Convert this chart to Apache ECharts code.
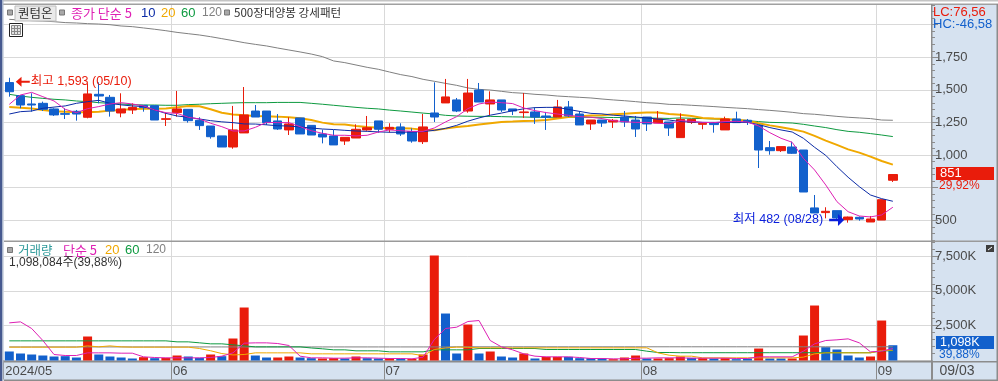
<!DOCTYPE html>
<html><head><meta charset="utf-8">
<style>html,body{margin:0;padding:0;background:#fff}#c{width:998px;height:381px}</style>
<script src="https://cdn.jsdelivr.net/npm/echarts@6/dist/echarts.min.js"></script>
</head><body><div id="c"></div>
<script>
const dates = ['05/10','05/13','05/14','05/16','05/17','05/20','05/21','05/22','05/23','05/24','05/27','05/28','05/29','05/30','05/31',
'06/03','06/04','06/05','06/07','06/10','06/11','06/12','06/13','06/14','06/17','06/18','06/19','06/20','06/21','06/24','06/25','06/26','06/27','06/28',
'07/01','07/02','07/03','07/04','07/05','07/08','07/09','07/10','07/11','07/12','07/15','07/16','07/17','07/18','07/19','07/22','07/23','07/24','07/25','07/26','07/29','07/30','07/31',
'08/01','08/02','08/05','08/06','08/07','08/08','08/09','08/12','08/13','08/14','08/16','08/19','08/20','08/21','08/22','08/23','08/26','08/27','08/28','08/29','08/30',
'09/02','09/03'];
const blankSlots = ['', ' ', '  '];
const monthLabels = {'05/10':'2024/05','06/03':'06','07/01':'07','08/01':'08','09/02':'09'};
const openP = [1556,1456,1392,1397,1354,1318,1336,1290,1466,1443,1323,1346,1382,1379,1274,1326,1351,1267,1223,1147,1062,1170,1338,1338,1262,1193,1285,1228,1162,1147,
1108,1131,1193,1262,1198,1216,1180,1103,1323,1400,1423,1338,1499,1392,1423,1354,1326,1331,1300,1292,1369,1315,1239,1269,1254,1292,1269,1292,1246,1254,
1134,1251,1236,1249,1193,1277,1267,1228,1057,1034,1062,1039,595,559,574,505,523,487,502,807];
const closeP = [1486,1384,1384,1351,1308,1313,1315,1469,1453,1338,1354,1366,1364,1269,1279,1354,1264,1226,1141,1062,1193,1308,1292,1249,1200,1239,1162,1154,1139,1078,
1136,1198,1210,1198,1213,1162,1108,1216,1292,1446,1338,1476,1407,1423,1346,1338,1331,1292,1290,1369,1300,1231,1269,1246,1267,1254,1200,1239,1277,1208,
1274,1274,1244,1234,1277,1249,1254,1039,1034,1065,1014,717,556,569,518,525,510,510,658,851];
const lowP = [1448,1359,1333,1338,1300,1277,1264,1282,1397,1295,1290,1315,1333,1269,1223,1295,1249,1193,1126,1062,1049,1170,1292,1231,1193,1154,1162,1154,1090,1078,
1078,1131,1187,1172,1172,1147,1095,1085,1254,1400,1330,1325,1407,1307,1331,1307,1285,1239,1193,1292,1292,1231,1193,1216,1208,1216,1139,1185,1246,1147,
1134,1239,1198,1172,1193,1249,1231,901,1003,1024,1009,717,556,515,500,482,497,487,502,794];
const highP = [1593,1456,1474,1410,1359,1359,1346,1550,1558,1461,1474,1397,1382,1379,1325,1492,1351,1290,1223,1147,1377,1522,1384,1338,1315,1290,1285,1228,1195,1193,
1136,1236,1300,1262,1244,1244,1205,1315,1558,1584,1438,1584,1553,1489,1423,1354,1476,1364,1331,1423,1415,1338,1269,1269,1277,1338,1300,1292,1338,1254,
1320,1274,1244,1249,1295,1333,1277,1228,1108,1065,1103,1039,694,600,574,528,530,533,660,855];
const ma5 = [1389,1461,1481,1448,1415,1351,1325,1356,1372,1392,1402,1392,1377,1346,1325,1320,1290,1277,1244,1218,1185,1185,1213,1251,1249,1249,1218,1187,1167,1152,
1152,1147,1152,1177,1193,1187,1182,1182,1208,1254,1295,1356,1392,1407,1402,1395,1361,1341,1326,1315,1305,1295,1290,1280,1264,1256,1251,1251,1244,1239,
1264,1259,1251,1249,1257,1259,1254,1223,1172,1129,1098,975,886,771,643,566,533,526,541,600];
const ma10 = [1315,1333,1338,1359,1368,1377,1397,1410,1420,1397,1385,1377,1372,1346,1320,1300,1290,1277,1264,1255,1249,1239,1238,1232,1225,1223,1215,1208,1200,1196,
1190,1185,1182,1178,1175,1175,1177,1180,1190,1205,1228,1260,1285,1306,1322,1340,1355,1364,1366,1366,1350,1335,1320,1316,1306,1300,1292,1285,1276,1269,
1257,1254,1251,1251,1251,1251,1251,1234,1211,1193,1177,1129,1060,998,911,830,758,694,666,646];
const ma20 = [1369,1364,1358,1346,1336,1333,1328,1328,1333,1341,1346,1354,1356,1356,1358,1366,1377,1374,1351,1325,1312,1305,1300,1297,1295,1290,1282,1269,1249,1236,
1234,1223,1216,1210,1207,1205,1203,1195,1190,1203,1216,1223,1234,1244,1254,1257,1262,1264,1269,1280,1293,1298,1303,1305,1313,1318,1323,1326,1326,1315,
1310,1300,1285,1280,1277,1272,1264,1244,1228,1213,1198,1180,1147,1111,1078,1044,1019,988,955,927];
const ma60 = [1466,1453,1443,1435,1428,1423,1415,1410,1402,1397,1392,1387,1384,1384,1382,1382,1387,1390,1394,1397,1400,1402,1402,1402,1404,1404,1404,1397,1390,1382,
1374,1366,1359,1354,1345,1338,1330,1322,1315,1305,1300,1298,1297,1297,1295,1293,1292,1290,1290,1290,1290,1290,1290,1290,1288,1288,1286,1285,1283,1281,
1285,1282,1280,1277,1274,1269,1264,1257,1251,1249,1246,1236,1223,1211,1195,1182,1175,1165,1154,1142];
const ma120 = [2041,2036,2031,2028,2023,2016,2013,2008,2005,2000,1990,1985,1975,1965,1954,1941,1931,1921,1908,1893,1878,1862,1849,1837,1821,1806,1791,1775,1755,1722,
1709,1691,1673,1658,1637,1617,1602,1581,1566,1550,1535,1515,1504,1499,1489,1479,1474,1466,1461,1453,1448,1443,1438,1430,1423,1417,1410,1402,1397,1389,
1387,1382,1377,1372,1366,1361,1356,1349,1343,1336,1328,1318,1313,1305,1297,1290,1285,1280,1269,1267];
const volume = [647,503,431,359,287,311,215,1724,431,287,215,144,240,167,190,359,287,190,431,311,1580,3807,359,215,215,287,215,167,144,168,
144,287,168,144,168,144,120,431,7540,3375,503,2585,503,646,287,215,503,144,263,263,263,168,168,168,96,215,359,144,144,168,
287,190,168,144,168,96,144,861,144,144,144,1795,3950,957,790,359,215,287,2872,1098];
const volDir = [-1,-1,-1,-1,-1,-1,-1,1,-1,-1,-1,-1,1,-1,1,1,-1,-1,1,-1,1,1,-1,-1,1,1,-1,-1,1,1,
-1,1,-1,-1,1,-1,1,1,1,-1,-1,1,-1,1,-1,-1,1,-1,1,1,-1,-1,-1,-1,1,1,1,-1,1,1,
1,-1,1,-1,1,-1,-1,1,-1,-1,1,1,1,-1,-1,-1,-1,1,1,-1];
const vma5 = [2704,2776,2297,1436,431,359,359,550,550,550,526,526,263,215,191,191,191,191,215,311,550,1244,1268,1268,1220,1077,311,191,191,168,
168,191,191,168,144,144,120,239,1508,2297,2393,2800,2872,1436,981,766,478,311,263,263,263,215,144,144,120,120,168,168,191,191,
191,168,168,168,168,144,144,263,263,263,263,670,1196,1436,1484,1555,1268,622,670,861];
const vma20 = [958,958,958,958,958,958,958,1050,980,1050,980,958,958,958,958,958,958,862,700,500,400,430,550,550,550,550,550,478,478,478,
478,478,478,478,478,478,478,350,790,900,960,950,910,910,910,910,910,910,910,910,910,910,910,910,910,910,910,910,550,380,
310,310,190,190,190,190,190,190,190,190,190,240,478,550,550,550,550,550,720,740];
const vma60 = [1412,1412,1412,1412,1412,1412,1412,1412,1412,1412,1412,1412,1412,1412,1412,1340,1340,1270,1197,1197,1125,1050,980,980,980,980,980,900,840,766,
766,695,695,695,622,622,622,622,766,766,766,766,861,861,861,861,861,861,790,790,790,790,790,790,790,790,790,670,574,574,
560,560,560,560,560,560,560,560,560,560,560,560,560,560,560,560,560,560,694,694];
const vma120 = [975,975,975,975,975,975,975,975,975,975,975,975,975,975,975,975,975,975,975,975,975,975,975,975,975,975,975,975,975,975,
975,975,975,975,975,975,975,975,975,975,985,985,985,985,985,985,985,985,985,985,985,985,985,985,985,985,985,985,985,985,
985,985,985,985,985,985,985,985,985,985,985,985,985,985,985,985,985,985,985,985];
const priceMajor = [500,750,1000,1250,1500,1750,2000];
const priceLabels = [500,1000,1250,1500,1750];
const priceMinor = [350,400,450,500,550,600,650,700,750,800,850,900,950,1000,1050,1100,1150,1200,1250,1300,1350,1400,1450,1500,1550,1600,1650,1700,1750,1800,1850,1900,1950,2000,2050,2100,2150];
const volMajor = [2500,5000,7500];
const volMinor = [500,1000,1500,2000,2500,3000,3500,4000,4500,5000,5500,6000,6500,7000,7500,8000,8500];

const RED='#E91C0B', BLUE='#1260CC', DEEP='#0A1EDC', MAG='#DE20B4', NAVY='#0B2BA6', ORG='#F0A800', GRN='#0E9A40', GRY='#808080';
const GRID='#D9D9D9', PANEL='#D6E2F0', AXIS='#8C8C8C', TXT='#4A4A4A';
const FONT="'Liberation Sans','Noto Sans CJK KR',sans-serif";
const KR="'Noto Sans CJK KR',sans-serif";
const cats = dates.concat(blankSlots);
const isMonthStart = (i,v)=>Object.prototype.hasOwnProperty.call(monthLabels,v);
const fmt = n=>String(n).replace(/\B(?=(\d{3})+$)/g,',');

const txt=(x,y,text,fill,o={})=>({type:'text',z:50,x,y,silent:true,style:Object.assign({text,fill,font:`${o.size||13}px ${o.family||FONT}`,textVerticalAlign:'middle',textBaseline:'middle'},o.style||{})});
const rect=(x,y,w,h,fill,o={})=>({type:'rect',z:o.z===undefined?-1:o.z,silent:true,shape:{x,y,width:w,height:h},style:{fill,stroke:o.stroke||null,lineWidth:o.lw||0}});
const seg=(x1,y1,x2,y2,stroke,z)=>({type:'line',z:z||47,silent:true,shape:{x1,y1,x2,y2},style:{stroke,lineWidth:1}});

const graphics=[
 rect(932,4,66,377,PANEL),
 rect(4,362,928,18,PANEL),
 rect(0,0,998,1.5,'#C4C4C4',{z:40}),
 rect(0,3.5,998,1.5,'#A0A0A0',{z:40}),
 rect(0,0,2,381,'#46598F',{z:40}),
 rect(2,0,1.5,381,'#AAB6CC',{z:40}),
 rect(4,240.5,994,1.5,'#9A9A9A',{z:40}),
 rect(4,361,994,1.5,AXIS,{z:40}),
 rect(4,379.5,994,1.5,AXIS,{z:40}),
 rect(931,4,1.5,377,AXIS,{z:40}),
 rect(996.5,4,1.5,377,AXIS,{z:40}),
 rect(7.5,10,5,5,'#A8A8A8',{z:45,stroke:'#777',lw:1}),
 rect(15,6,41,15,'#EAEAEA',{z:45,stroke:'#BDBDBD',lw:1}),
 txt(18,13.5,'퀀텀온','#333',{family:KR,size:12.5}),
 rect(59.5,10,5,5,'#A8A8A8',{z:45,stroke:'#777',lw:1}),
 txt(71,13,'종가 단순 5',MAG,{family:KR,size:13}),
 txt(141,13,'10',NAVY),txt(161,13,'20',ORG),txt(181,13,'60',GRN),txt(202,13,'120',GRY,{size:12}),
 rect(224.5,10,5,5,'#A8A8A8',{z:45,stroke:'#777',lw:1}),
 txt(234,13,'500장대양봉 강세패턴','#333',{family:KR,size:11.6}),
 rect(9.5,23.5,13,13,'#fff',{z:45,stroke:'#222',lw:1}),
 rect(11.5,25.5,9,9,'#E2E2E2',{z:46,stroke:'#888',lw:1}),
 seg(14.5,26,14.5,34,'#888'),seg(17.5,26,17.5,34,'#888'),seg(12,28.5,20,28.5,'#888'),seg(12,31.5,20,31.5,'#888'),
 rect(7.5,247.5,5,5,'#A8A8A8',{z:45,stroke:'#777',lw:1}),
 txt(18,250,'거래량','#2E9A9A',{family:KR,size:12.5}),
 txt(63,250,'단순 5',MAG,{family:KR,size:13}),
 txt(105,250,'20',ORG),txt(125,250,'60',GRN),txt(146,250,'120',GRY,{size:12}),
 txt(9,263,'1,098,084주(39,88%)','#333',{size:12}),
 txt(933,12,'LC:76,56',RED,{size:13}),
 txt(933,24,'HC:-46,58',BLUE,{size:13}),
 rect(936,167,58,13,RED,{z:45}),
 txt(940,173.5,'851','#fff'),
 txt(939,186,'29,92%',RED,{size:12}),
 rect(936,336,58,13,BLUE,{z:45}),
 txt(940,342.5,'1,098K','#fff',{size:12.5}),
 txt(939,354.5,'39,88%',BLUE,{size:12}),
 rect(986,245,8,7,'#3E3E3E',{z:45}),
 seg(988,250,992,247,'#fff'),
 txt(939.5,371,'09/03',TXT,{size:14})
];

const lineS=(name,data,color,width,xi,yi,z)=>({name,type:'line',data,xAxisIndex:xi,yAxisIndex:yi,showSymbol:false,silent:true,z:z,
  lineStyle:{color,width,cap:'butt'},itemStyle:{color},animation:false});

const option={
 animation:false,
 backgroundColor:'#fff',
 textStyle:{fontFamily:FONT},
 grid:[
  {left:3.7,top:5,width:928.3,height:236,containLabel:false},
  {left:3.7,top:241,width:928.3,height:119.5,containLabel:false}
 ],
 xAxis:[0,1].map(g=>({
  type:'category',gridIndex:g,data:cats,boundaryGap:true,
  axisLine:{show:g===1,lineStyle:{color:'#BDBDBD',width:1}},
  axisTick:{show:g===1,length:19,interval:isMonthStart,alignWithLabel:false,lineStyle:{color:AXIS,width:1}},
  axisLabel:{show:g===1,interval:isMonthStart,color:TXT,fontFamily:FONT,fontSize:13,align:'left',margin:4,padding:[0,0,0,-4],
    formatter:v=>monthLabels[v]||''},
  splitLine:{show:true,interval:isMonthStart,showMinLine:false,showMaxLine:false,lineStyle:{color:GRID,width:1}}
 })),
 yAxis:[
  {type:'value',gridIndex:0,position:'right',min:341.25,max:2151,scale:false,
   axisLine:{show:false},
   axisTick:{show:true,length:6,customValues:priceMajor,lineStyle:{color:AXIS}},
   axisLabel:{show:true,customValues:priceLabels,margin:3,color:TXT,fontFamily:FONT,fontSize:13,formatter:v=>fmt(v)},
   splitLine:{show:true,lineStyle:{color:GRID,width:1}}},
  {type:'value',gridIndex:0,position:'right',min:341.25,max:2151,
   axisLine:{show:false},
   axisTick:{show:true,length:3,customValues:priceMinor,lineStyle:{color:AXIS}},
   axisLabel:{show:false},splitLine:{show:false}},
  {type:'value',gridIndex:1,position:'right',min:0,max:8585,
   axisLine:{show:false},
   axisTick:{show:true,length:6,customValues:volMajor,lineStyle:{color:AXIS}},
   axisLabel:{show:true,customValues:volMajor,margin:3,color:TXT,fontFamily:FONT,fontSize:13,formatter:v=>fmt(v)+'K'},
   splitLine:{show:true,lineStyle:{color:GRID,width:1}}},
  {type:'value',gridIndex:1,position:'right',min:0,max:8585,
   axisLine:{show:false},
   axisTick:{show:true,length:3,customValues:volMinor,lineStyle:{color:AXIS}},
   axisLabel:{show:false},splitLine:{show:false}}
 ],
 series:[
  lineS('MA120',ma120,GRY,1,0,0,3),
  lineS('MA60',ma60,GRN,1,0,0,3),
  lineS('MA20',ma20,ORG,2,0,0,3),
  {name:'price',type:'candlestick',xAxisIndex:0,yAxisIndex:0,z:4,barWidth:9,silent:true,
   data:dates.map((d,i)=>[openP[i],closeP[i],lowP[i],highP[i]]),
   itemStyle:{color:RED,color0:BLUE,borderColor:RED,borderColor0:BLUE,borderWidth:1},
   markPoint:{silent:true,animation:false,z:20,data:[
    {coord:[dates[0],highP[0]],symbol:'path://M0,5 L9,0 L9,4 L22,4 L22,6 L9,6 L9,10 Z',symbolSize:[14,10],symbolOffset:[13.5,4],symbolKeepAspect:false,
     itemStyle:{color:RED},label:{show:true,position:'right',distance:1,color:RED,fontFamily:FONT,fontSize:12.5,formatter:'최고 '+fmt(highP[0])+' ('+dates[0]+')'}},
    {coord:[dates[75],lowP[75]],symbol:'path://M22,5 L13,0 L13,4 L0,4 L0,6 L13,6 L13,10 Z',symbolSize:[15,12],symbolOffset:[-11.5,-2.7],symbolKeepAspect:false,
     itemStyle:{color:DEEP},label:{show:true,position:'left',distance:6,color:DEEP,fontFamily:FONT,fontSize:12.5,formatter:'최저 '+lowP[75]+' ('+dates[75]+')'}}
   ]}},
  lineS('MA10',ma10,NAVY,1,0,0,5),
  lineS('MA5',ma5,MAG,1,0,0,5),
  {name:'volume',type:'bar',xAxisIndex:1,yAxisIndex:2,barWidth:9,z:3,silent:true,
   data:volume.map((v,i)=>({value:v,itemStyle:{color:volDir[i]>0?RED:BLUE}}))},
  lineS('V120',vma120,GRY,1,1,2,4),
  lineS('V60',vma60,GRN,1,1,2,4),
  lineS('V20',vma20,ORG,1,1,2,4),
  lineS('V5',vma5,MAG,1,1,2,5)
 ],
 graphic:{elements:graphics}
};
const chart=echarts.init(document.getElementById('c'),null,{renderer:'canvas',width:998,height:381});
chart.setOption(option);
</script></body></html>
